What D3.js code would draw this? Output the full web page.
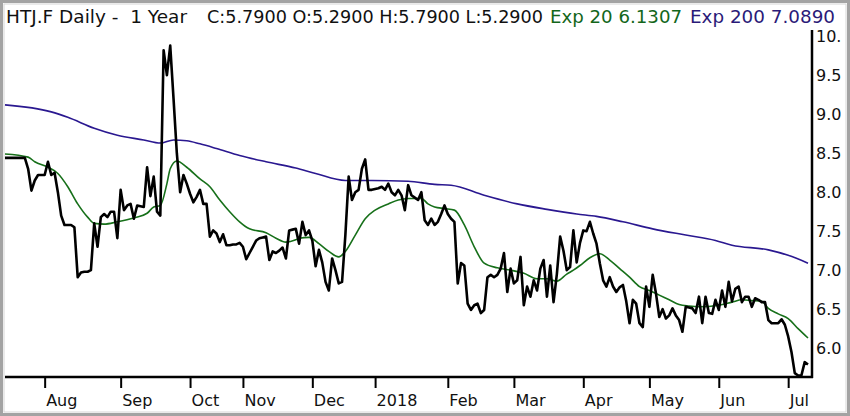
<!DOCTYPE html>
<html>
<head>
<meta charset="utf-8">
<script src="https://cdn.jsdelivr.net/npm/d3@7"></script>
<style>
  body { margin: 0; background: #fff; }
  text { font-family: "DejaVu Sans", sans-serif; white-space: pre; }
</style>
</head>
<body>
<div id="chart"></div>
<script>
// daily closes, one per trading day (index 0 .. 243)
const closes = [
  8.44,8.44,8.44,8.44,8.44,8.44,8.44,8.3,8.02,8.15,
  8.22,8.22,8.22,8.39,8.22,8.25,8.0,7.7,7.58,7.58,
  7.58,7.55,6.91,6.97,6.98,6.98,7.0,7.6,7.3,7.68,
  7.72,7.68,7.75,7.75,7.41,8.03,7.77,7.83,7.85,7.66,
  7.83,7.82,7.81,8.32,7.95,8.2,7.75,7.7,9.82,9.5,
  9.88,9.2,8.5,8.0,8.22,8.11,7.98,7.87,7.94,8.03,
  7.85,7.85,7.43,7.51,7.47,7.36,7.46,7.32,7.32,7.33,
  7.33,7.35,7.3,7.14,7.22,7.3,7.38,7.41,7.42,7.43,
  7.13,7.24,7.22,7.25,7.29,7.15,7.51,7.52,7.53,7.34,
  7.62,7.45,7.51,7.38,7.05,7.26,7.1,6.85,6.74,7.15,
  7.0,6.83,6.85,7.45,8.2,7.9,8.0,8.03,8.3,8.42,
  8.03,8.03,8.04,8.05,8.07,8.03,8.11,8.0,7.96,8.03,
  7.96,7.77,8.09,7.96,7.93,7.9,8.0,7.64,7.58,7.66,
  7.58,7.62,7.72,7.83,7.72,7.66,7.62,6.83,7.09,7.06,
  6.57,6.49,6.55,6.57,6.45,6.49,6.91,6.94,6.91,6.94,
  7.02,7.22,6.72,7.02,6.83,6.87,7.17,6.55,6.79,6.66,
  6.87,6.74,7.02,7.13,6.66,7.06,6.59,6.95,7.43,7.25,
  7.0,7.04,7.51,7.1,7.35,7.51,7.5,7.62,7.47,7.34,
  7.09,6.87,6.79,6.91,6.79,6.72,6.78,6.81,6.6,6.32,
  6.62,6.57,6.32,6.27,6.79,6.53,6.94,6.7,6.4,6.5,
  6.38,6.42,6.51,6.42,6.36,6.21,6.53,6.52,6.51,6.45,
  6.66,6.32,6.66,6.45,6.44,6.62,6.49,6.74,6.53,6.85,
  6.6,6.76,6.79,6.59,6.66,6.66,6.53,6.64,6.62,6.59,
  6.59,6.36,6.32,6.32,6.32,6.37,6.3,6.15,5.95,5.68,
  5.65,5.65,5.82,5.79
];

// Exp 20 moving average, read at these day indexes
const ema20Idx = [0,7,9,13,16,19,22,25,27,30,34,39,43,45,47,49,50,52,55,59,
  62,65,68,71,74,79,82,85,88,89,92,95,98,101,103,106,109,112,116,119,
  122,126,128,130,133,136,139,142,145,149,153,157,161,164,167,170,172,174,177,180,
  183,186,189,192,195,198,201,204,207,210,216,220,223,226,229,231,234,237,240,243];
const ema20Val = [8.49,8.45,8.39,8.32,8.24,8.07,7.85,7.68,7.6,7.59,7.62,7.67,7.73,7.81,7.83,8.11,8.3,8.4,8.32,8.17,
  8.07,7.9,7.75,7.62,7.53,7.48,7.41,7.36,7.39,7.41,7.42,7.34,7.24,7.17,7.24,7.45,7.66,7.77,7.85,7.9,
  7.92,7.92,7.85,7.81,7.79,7.77,7.58,7.3,7.09,7.03,7.0,6.96,6.89,6.89,6.86,6.95,7.0,7.06,7.16,7.21,
  7.13,7.02,6.91,6.79,6.74,6.68,6.62,6.56,6.54,6.53,6.55,6.59,6.62,6.61,6.6,6.51,6.44,6.38,6.25,6.13];

// Exp 200 moving average
const ema200Idx = [0,14,19,27,34,42,47,51,55,59,64,71,79,88,94,103,111,122,130,135,
  145,155,164,173,179,187,196,206,215,220,231,237,243];
const ema200Val = [9.12,9.03,8.96,8.82,8.73,8.67,8.63,8.67,8.66,8.62,8.56,8.47,8.39,8.31,8.24,8.15,8.15,8.14,8.1,8.09,
  7.96,7.85,7.78,7.72,7.69,7.62,7.53,7.45,7.38,7.32,7.26,7.19,7.09];

// month ticks (day index of first trading day)
const monthIdx = [12,35,56,72,93,112,134,154,175,195,216,237];
const monthLabels = ["Aug","Sep","Oct","Nov","Dec","2018","Feb","Mar","Apr","May","Jun","Jul"];

const yTicks = [6,6.5,7,7.5,8,8.5,9,9.5,10];
const yTickLabels = ["6.0","6.5","7.0","7.5","8.0","8.5","9.0","9.5","10."];

// header pieces
const headParts = ["HTJ.F Daily -  1 Year", "C:5.7900 O:5.2900 H:5.7900 L:5.2900", "Exp 20 6.1307", "Exp 200 7.0890"];
const headColors = ["#111", "#111", "#13661a", "#2a1a78"];

const W = 850, H = 416;
const svg = d3.select("#chart").append("svg").attr("width", W).attr("height", H);

// frame
svg.append("rect").attr("x", 1.5).attr("y", 1.5).attr("width", W - 3).attr("height", H - 3)
  .attr("fill", "none").attr("stroke", "#a3a3a3").attr("stroke-width", 3);
svg.append("rect").attr("x", 4).attr("y", 4).attr("width", W - 8).attr("height", H - 8)
  .attr("fill", "none").attr("stroke", "#d6d6d6").attr("stroke-width", 1);

const x = d3.scaleLinear().domain([0, 243]).range([5, 808]);
const y = d3.scaleLinear().domain([5.63, 10.08]).range([377, 30]);

// title, each piece stretched to the width it has in the original
const headX = [6, 207, 550, 690];
const headW = [181, 336, 132, 145];
svg.selectAll(".head").data(headParts).enter().append("text")
  .attr("class", "head")
  .attr("x", (d, i) => headX[i]).attr("y", 23)
  .attr("font-size", 18)
  .attr("textLength", (d, i) => headW[i])
  .attr("lengthAdjust", "spacingAndGlyphs")
  .attr("fill", (d, i) => headColors[i])
  .text(d => d);

// lines
const smooth = d3.line().x(d => x(d[0])).y(d => y(d[1])).curve(d3.curveMonotoneX);

svg.append("path").datum(ema200Idx.map((d, i) => [d, ema200Val[i]]))
  .attr("d", smooth).attr("fill", "none").attr("stroke", "#2a1890").attr("stroke-width", 1.6);

svg.append("path").datum(ema20Idx.map((d, i) => [d, ema20Val[i]]))
  .attr("d", smooth).attr("fill", "none").attr("stroke", "#17701a").attr("stroke-width", 1.6);

const closeLine = d3.line().x((d, i) => x(i)).y(d => y(d));
svg.append("path").datum(closes)
  .attr("d", closeLine).attr("fill", "none").attr("stroke", "#000")
  .attr("stroke-width", 2.6).attr("stroke-linejoin", "round");

// x axis
const xAxis = d3.axisBottom(x).tickValues(monthIdx)
  .tickFormat((d, i) => monthLabels[i]).tickSize(11).tickSizeOuter(0);
const gx = svg.append("g").attr("transform", "translate(0,377)").call(xAxis);
gx.select(".domain").remove();
gx.selectAll(".tick line").attr("stroke", "#000").attr("stroke-width", 2);
gx.selectAll(".tick text").attr("text-anchor", "start").attr("dx", 1).attr("dy", 0).attr("y", 29)
  .attr("font-size", 16).attr("font-family", "DejaVu Sans").attr("fill", "#111");
svg.append("line").attr("x1", 5).attr("x2", 813).attr("y1", 377).attr("y2", 377)
  .attr("stroke", "#000").attr("stroke-width", 2.5);

// y axis on the right
svg.append("line").attr("x1", 812).attr("x2", 812).attr("y1", 30).attr("y2", 378)
  .attr("stroke", "#000").attr("stroke-width", 2.5);
svg.selectAll(".ylab").data(yTicks).enter().append("text")
  .attr("class", "ylab")
  .attr("x", 816).attr("y", d => y(d) + 6)
  .attr("font-size", 16).attr("fill", "#111")
  .text((d, i) => yTickLabels[i]);
</script>
</body>
</html>
